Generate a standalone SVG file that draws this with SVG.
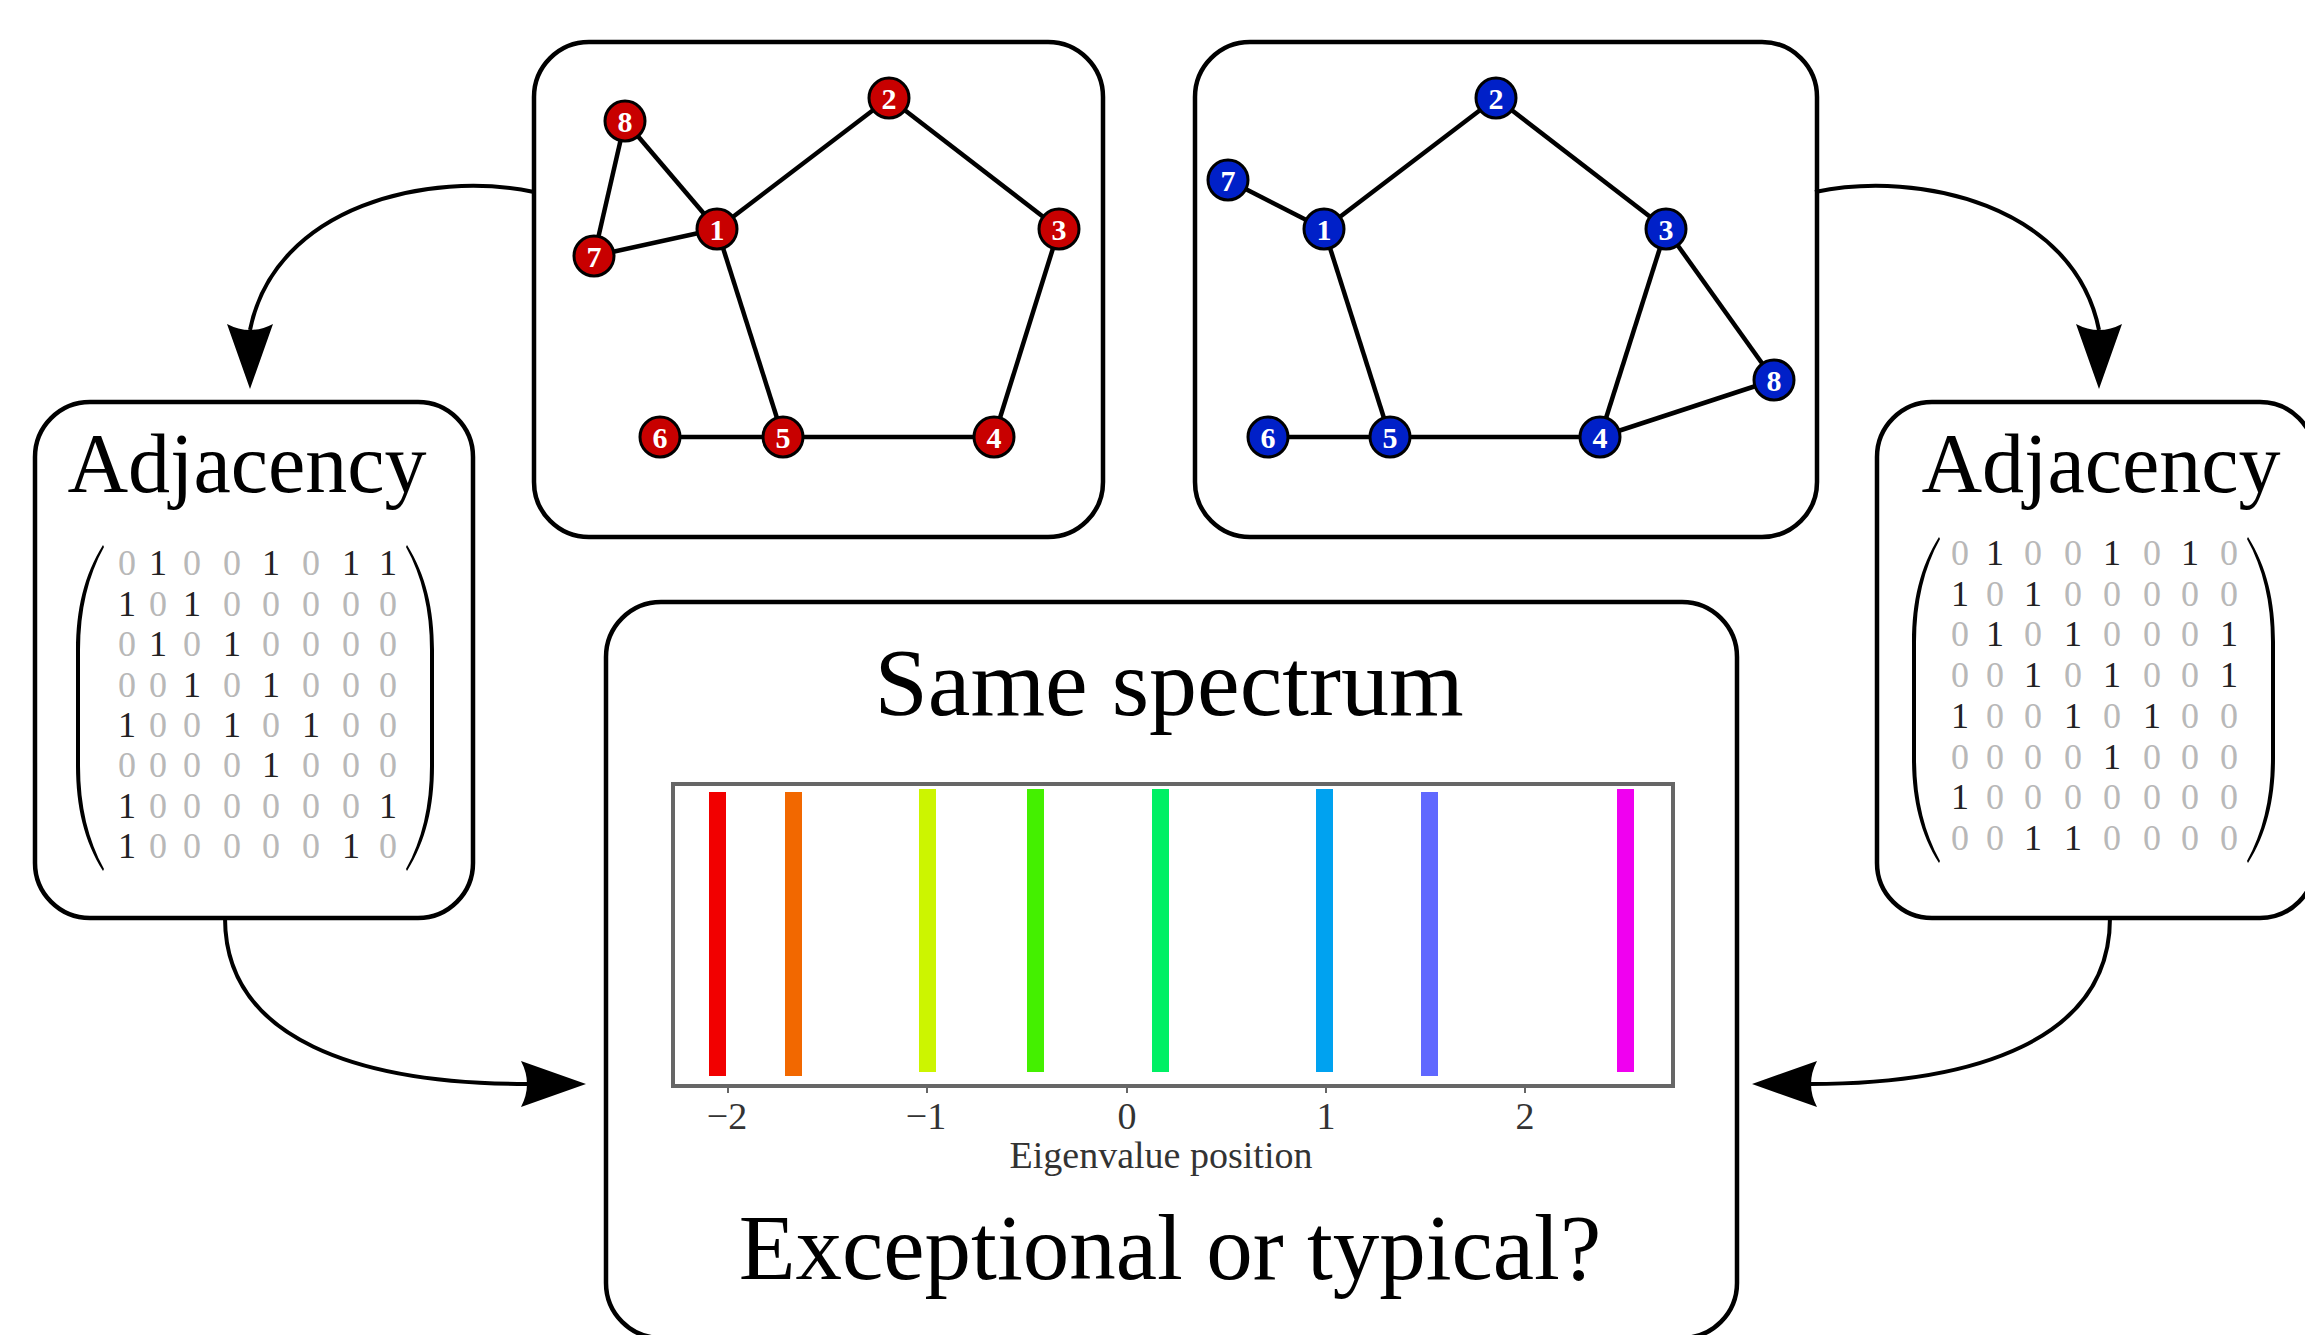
<svg xmlns="http://www.w3.org/2000/svg" xmlns:xlink="http://www.w3.org/1999/xlink" width="2305" height="1335" viewBox="0 0 2305 1335">
<style>
.box{fill:#fff;stroke:#000;stroke-width:4.5}
.edge{stroke:#000;stroke-width:4.5;fill:none}
.arrow{stroke:#000;stroke-width:4;fill:none}
.nr{fill:#c80000;stroke:#000;stroke-width:3}
.nb{fill:#0020c8;stroke:#000;stroke-width:3}
.nl{font-family:"Liberation Serif",serif;font-weight:bold;font-size:30px;fill:#fff;text-anchor:middle}
.title{font-family:"Liberation Serif",serif;fill:#000;text-anchor:middle}
.mx{font-family:"Liberation Serif",serif;font-size:36px;text-anchor:middle}
.z{fill:#b8b8b8}
.o{fill:#222}
.ax{font-family:"Liberation Serif",serif;font-size:38px;fill:#333;text-anchor:middle}
.tick{stroke:#666;stroke-width:2}
</style>
<defs>
<path id="ah" d="M0,0 L-23,-65 Q0,-53 23,-65 Z" fill="#000"/>
<path id="lp" d="M27,-163 C8,-133 0,-98 0,-58 L0,58 C0,98 8,133 27,163 L28,161 C12,132 4,98 4,58 L4,-58 C4,-98 12,-132 28,-161 Z" fill="#000"/>
</defs>
<rect width="2305" height="1335" fill="#fff"/>

<!-- Top-left graph -->
<g id="graph-red">
<rect class="box" x="534" y="42" width="569" height="495" rx="55"/>
<g id="edges-red">
<line class="edge" x1="625" y1="121" x2="717" y2="229"/>
<line class="edge" x1="625" y1="121" x2="594" y2="256"/>
<line class="edge" x1="594" y1="256" x2="717" y2="229"/>
<line class="edge" x1="717" y1="229" x2="889" y2="98"/>
<line class="edge" x1="889" y1="98" x2="1059" y2="229"/>
<line class="edge" x1="1059" y1="229" x2="994" y2="437"/>
<line class="edge" x1="994" y1="437" x2="783" y2="437"/>
<line class="edge" x1="783" y1="437" x2="660" y2="437"/>
<line class="edge" x1="717" y1="229" x2="783" y2="437"/>
</g>
<g id="r1"><circle class="nr" cx="717" cy="229" r="20"/><text class="nl" x="717" y="240">1</text></g>
<g id="r2"><circle class="nr" cx="889" cy="98" r="20"/><text class="nl" x="889" y="109">2</text></g>
<g id="r3"><circle class="nr" cx="1059" cy="229" r="20"/><text class="nl" x="1059" y="240">3</text></g>
<g id="r4"><circle class="nr" cx="994" cy="437" r="20"/><text class="nl" x="994" y="448">4</text></g>
<g id="r5"><circle class="nr" cx="783" cy="437" r="20"/><text class="nl" x="783" y="448">5</text></g>
<g id="r6"><circle class="nr" cx="660" cy="437" r="20"/><text class="nl" x="660" y="448">6</text></g>
<g id="r7"><circle class="nr" cx="594" cy="256" r="20"/><text class="nl" x="594" y="267">7</text></g>
<g id="r8"><circle class="nr" cx="625" cy="121" r="20"/><text class="nl" x="625" y="132">8</text></g>
</g>

<!-- Top-right graph -->
<g id="graph-blue">
<rect class="box" x="1195" y="42" width="622" height="495" rx="55"/>
<g id="edges-blue">
<line class="edge" x1="1228" y1="180" x2="1324" y2="229"/>
<line class="edge" x1="1324" y1="229" x2="1496" y2="98"/>
<line class="edge" x1="1496" y1="98" x2="1666" y2="229"/>
<line class="edge" x1="1666" y1="229" x2="1600" y2="437"/>
<line class="edge" x1="1666" y1="229" x2="1774" y2="380"/>
<line class="edge" x1="1774" y1="380" x2="1600" y2="437"/>
<line class="edge" x1="1600" y1="437" x2="1390" y2="437"/>
<line class="edge" x1="1390" y1="437" x2="1268" y2="437"/>
<line class="edge" x1="1324" y1="229" x2="1390" y2="437"/>
</g>
<g id="b1"><circle class="nb" cx="1324" cy="229" r="20"/><text class="nl" x="1324" y="240">1</text></g>
<g id="b2"><circle class="nb" cx="1496" cy="98" r="20"/><text class="nl" x="1496" y="109">2</text></g>
<g id="b3"><circle class="nb" cx="1666" cy="229" r="20"/><text class="nl" x="1666" y="240">3</text></g>
<g id="b4"><circle class="nb" cx="1600" cy="437" r="20"/><text class="nl" x="1600" y="448">4</text></g>
<g id="b5"><circle class="nb" cx="1390" cy="437" r="20"/><text class="nl" x="1390" y="448">5</text></g>
<g id="b6"><circle class="nb" cx="1268" cy="437" r="20"/><text class="nl" x="1268" y="448">6</text></g>
<g id="b7"><circle class="nb" cx="1228" cy="180" r="20"/><text class="nl" x="1228" y="191">7</text></g>
<g id="b8"><circle class="nb" cx="1774" cy="380" r="20"/><text class="nl" x="1774" y="391">8</text></g>
</g>

<!-- Left adjacency -->
<g id="adj-left">
<rect class="box" x="35" y="402" width="438" height="516" rx="55"/>
<text class="title" x="247" y="492" font-size="84">Adjacency</text>
<use xlink:href="#lp" transform="translate(76,708)"/>
<use xlink:href="#lp" transform="translate(434,708) scale(-1,1)"/>
<g class="mx">
<text x="127 158 192 232 271 311 351 388" y="575"><tspan class="z">0</tspan><tspan class="o">1</tspan><tspan class="z">0</tspan><tspan class="z">0</tspan><tspan class="o">1</tspan><tspan class="z">0</tspan><tspan class="o">1</tspan><tspan class="o">1</tspan></text>
<text x="127 158 192 232 271 311 351 388" y="616"><tspan class="o">1</tspan><tspan class="z">0</tspan><tspan class="o">1</tspan><tspan class="z">0</tspan><tspan class="z">0</tspan><tspan class="z">0</tspan><tspan class="z">0</tspan><tspan class="z">0</tspan></text>
<text x="127 158 192 232 271 311 351 388" y="656"><tspan class="z">0</tspan><tspan class="o">1</tspan><tspan class="z">0</tspan><tspan class="o">1</tspan><tspan class="z">0</tspan><tspan class="z">0</tspan><tspan class="z">0</tspan><tspan class="z">0</tspan></text>
<text x="127 158 192 232 271 311 351 388" y="697"><tspan class="z">0</tspan><tspan class="z">0</tspan><tspan class="o">1</tspan><tspan class="z">0</tspan><tspan class="o">1</tspan><tspan class="z">0</tspan><tspan class="z">0</tspan><tspan class="z">0</tspan></text>
<text x="127 158 192 232 271 311 351 388" y="737"><tspan class="o">1</tspan><tspan class="z">0</tspan><tspan class="z">0</tspan><tspan class="o">1</tspan><tspan class="z">0</tspan><tspan class="o">1</tspan><tspan class="z">0</tspan><tspan class="z">0</tspan></text>
<text x="127 158 192 232 271 311 351 388" y="777"><tspan class="z">0</tspan><tspan class="z">0</tspan><tspan class="z">0</tspan><tspan class="z">0</tspan><tspan class="o">1</tspan><tspan class="z">0</tspan><tspan class="z">0</tspan><tspan class="z">0</tspan></text>
<text x="127 158 192 232 271 311 351 388" y="818"><tspan class="o">1</tspan><tspan class="z">0</tspan><tspan class="z">0</tspan><tspan class="z">0</tspan><tspan class="z">0</tspan><tspan class="z">0</tspan><tspan class="z">0</tspan><tspan class="o">1</tspan></text>
<text x="127 158 192 232 271 311 351 388" y="858"><tspan class="o">1</tspan><tspan class="z">0</tspan><tspan class="z">0</tspan><tspan class="z">0</tspan><tspan class="z">0</tspan><tspan class="z">0</tspan><tspan class="o">1</tspan><tspan class="z">0</tspan></text>
</g>
</g>

<!-- Right adjacency -->
<g id="adj-right">
<rect class="box" x="1877" y="402" width="438" height="516" rx="55"/>
<text class="title" x="2101" y="492" font-size="84">Adjacency</text>
<use xlink:href="#lp" transform="translate(1912,700)"/>
<use xlink:href="#lp" transform="translate(2275,700) scale(-1,1)"/>
<g class="mx">
<text x="1960 1995 2033 2073 2112 2152 2190 2229" y="565"><tspan class="z">0</tspan><tspan class="o">1</tspan><tspan class="z">0</tspan><tspan class="z">0</tspan><tspan class="o">1</tspan><tspan class="z">0</tspan><tspan class="o">1</tspan><tspan class="z">0</tspan></text>
<text x="1960 1995 2033 2073 2112 2152 2190 2229" y="606"><tspan class="o">1</tspan><tspan class="z">0</tspan><tspan class="o">1</tspan><tspan class="z">0</tspan><tspan class="z">0</tspan><tspan class="z">0</tspan><tspan class="z">0</tspan><tspan class="z">0</tspan></text>
<text x="1960 1995 2033 2073 2112 2152 2190 2229" y="646"><tspan class="z">0</tspan><tspan class="o">1</tspan><tspan class="z">0</tspan><tspan class="o">1</tspan><tspan class="z">0</tspan><tspan class="z">0</tspan><tspan class="z">0</tspan><tspan class="o">1</tspan></text>
<text x="1960 1995 2033 2073 2112 2152 2190 2229" y="687"><tspan class="z">0</tspan><tspan class="z">0</tspan><tspan class="o">1</tspan><tspan class="z">0</tspan><tspan class="o">1</tspan><tspan class="z">0</tspan><tspan class="z">0</tspan><tspan class="o">1</tspan></text>
<text x="1960 1995 2033 2073 2112 2152 2190 2229" y="728"><tspan class="o">1</tspan><tspan class="z">0</tspan><tspan class="z">0</tspan><tspan class="o">1</tspan><tspan class="z">0</tspan><tspan class="o">1</tspan><tspan class="z">0</tspan><tspan class="z">0</tspan></text>
<text x="1960 1995 2033 2073 2112 2152 2190 2229" y="769"><tspan class="z">0</tspan><tspan class="z">0</tspan><tspan class="z">0</tspan><tspan class="z">0</tspan><tspan class="o">1</tspan><tspan class="z">0</tspan><tspan class="z">0</tspan><tspan class="z">0</tspan></text>
<text x="1960 1995 2033 2073 2112 2152 2190 2229" y="809"><tspan class="o">1</tspan><tspan class="z">0</tspan><tspan class="z">0</tspan><tspan class="z">0</tspan><tspan class="z">0</tspan><tspan class="z">0</tspan><tspan class="z">0</tspan><tspan class="z">0</tspan></text>
<text x="1960 1995 2033 2073 2112 2152 2190 2229" y="850"><tspan class="z">0</tspan><tspan class="z">0</tspan><tspan class="o">1</tspan><tspan class="o">1</tspan><tspan class="z">0</tspan><tspan class="z">0</tspan><tspan class="z">0</tspan><tspan class="z">0</tspan></text>
</g>
</g>

<!-- Center box -->
<g id="spectrum">
<rect class="box" x="606" y="602" width="1131" height="736" rx="55"/>
<text class="title" x="1169" y="715" font-size="96">Same spectrum</text>
<rect x="673" y="784" width="1000" height="302" fill="none" stroke="#666" stroke-width="4"/>
<g id="bars">
<rect x="709" y="792" width="17" height="284" fill="#f20000"/>
<rect x="785" y="792" width="17" height="284" fill="#f26800"/>
<rect x="919" y="789" width="17" height="283" fill="#ccf500"/>
<rect x="1027" y="789" width="17" height="283" fill="#44f000"/>
<rect x="1152" y="789" width="17" height="283" fill="#00f064"/>
<rect x="1316" y="789" width="17" height="283" fill="#00a2f0"/>
<rect x="1421" y="792" width="17" height="284" fill="#6068ff"/>
<rect x="1617" y="789" width="17" height="283" fill="#f000f0"/>
</g>
<g id="ticks">
<line class="tick" x1="728" y1="1086" x2="728" y2="1093"/>
<line class="tick" x1="927" y1="1086" x2="927" y2="1093"/>
<line class="tick" x1="1127" y1="1086" x2="1127" y2="1093"/>
<line class="tick" x1="1326" y1="1086" x2="1326" y2="1093"/>
<line class="tick" x1="1525" y1="1086" x2="1525" y2="1093"/>
</g>
<text class="ax" x="727" y="1129">−2</text>
<text class="ax" x="926" y="1129">−1</text>
<text class="ax" x="1127" y="1129">0</text>
<text class="ax" x="1326" y="1129">1</text>
<text class="ax" x="1525" y="1129">2</text>
<text class="ax" x="1161" y="1168">Eigenvalue position</text>
<text class="title" x="1170" y="1279" font-size="93">Exceptional or typical?</text>
</g>

<!-- Connectors -->
<g id="connectors">
<path class="arrow" d="M534,192 C430,170 275,205 250,330"/>
<use xlink:href="#ah" transform="translate(250,389)"/>
<path class="arrow" d="M1815,192 C1919,170 2074,205 2099,330"/>
<use xlink:href="#ah" transform="translate(2099,389)"/>
<path class="arrow" d="M225,918 C225,1040 360,1084 527,1084"/>
<use xlink:href="#ah" transform="translate(586,1084) rotate(-90)"/>
<path class="arrow" d="M2110,918 C2110,1040 1975,1084 1810,1084"/>
<use xlink:href="#ah" transform="translate(1752,1084) rotate(90)"/>
</g>
</svg>
